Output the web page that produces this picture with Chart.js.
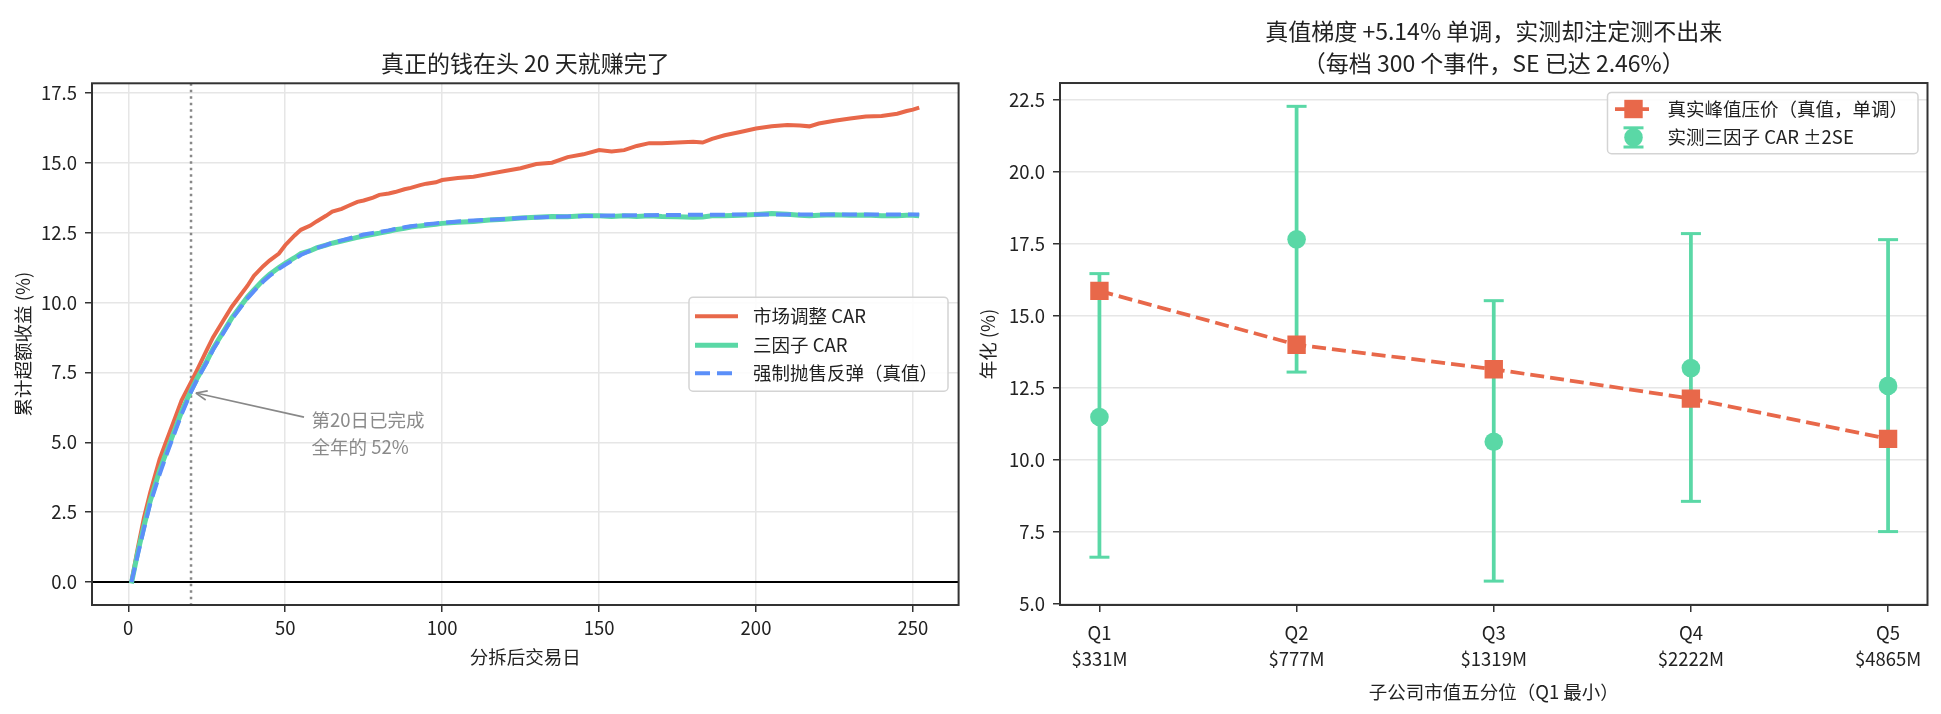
<!DOCTYPE html>
<html>
<head>
<meta charset="utf-8">
<script src="https://cdn.jsdelivr.net/npm/chart.js@4.4.1/dist/chart.umd.min.js"></script>
<style>
  body { margin: 0; background: #fff; }
  #izq { position: absolute; left: 0; top: 0; }
  #der { position: absolute; left: 960px; top: 0; }
</style>
</head>
<body>
<canvas id="izq" width="960" height="714"></canvas>
<canvas id="der" width="981" height="714"></canvas>
<script>
// datos
const days = [1,3,5,7,10,12,15,17,20,22,
  25,27,30,33,35,38,40,43,45,48,
  50,53,55,58,60,63,65,68,70,73,
  75,78,80,83,85,88,90,93,95,98,
  100,105,110,115,120,125,130,135,140,145,
  150,154,158,162,166,170,175,180,183,186,
  190,195,200,205,210,214,217,220,225,230,
  235,240,245,248,250,252]

const carMarket = [0.00,1.20,2.30,3.20,4.40,5.00,5.90,6.50,7.15,7.60,
  8.30,8.75,9.30,9.85,10.15,10.60,10.95,11.30,11.50,11.75,
  12.05,12.40,12.60,12.75,12.90,13.10,13.25,13.35,13.45,13.60,
  13.65,13.75,13.85,13.90,13.95,14.05,14.10,14.20,14.25,14.30,
  14.38,14.45,14.50,14.60,14.70,14.80,14.95,15.00,15.20,15.30,
  15.45,15.40,15.45,15.60,15.70,15.70,15.72,15.75,15.72,15.85,
  15.98,16.10,16.22,16.30,16.35,16.33,16.30,16.40,16.50,16.58,
  16.65,16.67,16.75,16.85,16.90,16.97]

const carThree = [-0.05,1.05,2.00,2.90,4.00,4.60,5.50,6.10,6.85,7.30,
  7.90,8.35,8.90,9.45,9.75,10.20,10.45,10.80,11.00,11.25,
  11.40,11.60,11.75,11.85,11.95,12.05,12.12,12.20,12.25,12.33,
  12.38,12.44,12.48,12.55,12.60,12.65,12.70,12.74,12.76,12.80,
  12.83,12.87,12.90,12.95,12.98,13.02,13.05,13.08,13.07,13.10,
  13.10,13.08,13.10,13.08,13.10,13.08,13.07,13.05,13.06,13.10,
  13.10,13.12,13.15,13.18,13.16,13.12,13.10,13.12,13.14,13.12,
  13.13,13.10,13.10,13.12,13.12,13.10]

const carTrue = [0.00,0.95,1.90,2.80,3.85,4.50,5.40,6.00,6.80,7.25,
  7.85,8.30,8.85,9.40,9.70,10.15,10.40,10.75,10.95,11.20,
  11.35,11.55,11.70,11.85,11.95,12.05,12.14,12.22,12.28,12.37,
  12.43,12.49,12.52,12.58,12.63,12.69,12.73,12.77,12.80,12.83,
  12.85,12.90,12.93,12.96,12.99,13.02,13.04,13.06,13.08,13.09,
  13.10,13.11,13.11,13.12,13.12,13.13,13.13,13.14,13.14,13.14,
  13.14,13.15,13.15,13.15,13.15,13.15,13.15,13.15,13.15,13.15,
  13.15,13.15,13.15,13.15,13.15,13.15]

const markDay = 20
const notaTexto = ['第20日已完成', '全年的 52%']
const notaPos = [58.4, 5.79]      // dia, valor de la primera linea
const flechaDesde = [56, 5.9]
const flechaHasta = [20, 6.8]

const quintiles = ['Q1', 'Q2', 'Q3', 'Q4', 'Q5']
const quintCaps = ['$331M', '$777M', '$1319M', '$2222M', '$4865M']
const peakTrue = [15.86, 13.99, 13.14, 12.12, 10.72]
const obsCar = [11.48, 17.65, 10.62, 13.18, 12.56]
const obsLow = [6.61, 13.04, 5.78, 8.55, 7.50]
const obsHigh = [16.46, 22.27, 15.52, 17.85, 17.64]

const ROJO = '#E8684A'
const VERDE = '#5AD8A6'
const AZUL = '#5B8FF9'
const FUENTE = '"Noto Sans CJK SC", "Noto Sans", sans-serif'

Chart.defaults.font.family = FUENTE
Chart.defaults.font.size = 18.5
Chart.defaults.color = '#222'

let linea = (ctx, x1, y1, x2, y2) => {
  ctx.beginPath()
  ctx.moveTo(x1, y1)
  ctx.lineTo(x2, y2)
  ctx.stroke()
}

let marcoLeyenda = (ctx, x, y, w, h) => {
  ctx.save()
  ctx.beginPath()
  ctx.roundRect(x, y, w, h, 4)
  ctx.fillStyle = 'rgba(255,255,255,0.85)'
  ctx.fill()
  ctx.strokeStyle = '#d4d4d4'
  ctx.lineWidth = 1.5
  ctx.stroke()
  ctx.restore()
}

const marco = {
  id: 'marco',
  afterDraw(chart) {
    const {ctx, chartArea: a} = chart
    ctx.save()
    ctx.strokeStyle = '#333'
    ctx.lineWidth = 2
    ctx.strokeRect(a.left, a.top, a.right - a.left, a.bottom - a.top)
    ctx.restore()
  }
}

const gridComun = {color: '#e6e6e6', lineWidth: 1.5, tickColor: '#333', tickLength: 7, tickWidth: 1.5}

// ---------- grafico izquierdo ----------
const guias = {
  id: 'guias',
  beforeDatasetsDraw(chart) {
    const {ctx, chartArea: a, scales: {x, y}} = chart
    ctx.save()
    ctx.strokeStyle = '#000'
    ctx.lineWidth = 2
    const y0 = y.getPixelForValue(0)
    linea(ctx, a.left, y0, a.right, y0)
    const xd = x.getPixelForValue(markDay)
    ctx.strokeStyle = '#888'
    ctx.lineWidth = 2.5
    ctx.setLineDash([2.5, 4])
    linea(ctx, xd, a.top, xd, a.bottom)
    ctx.restore()
  },
  afterDraw(chart) {
    const {ctx, chartArea: a, scales: {x, y}} = chart
    ctx.save()
    // nota con flecha
    ctx.fillStyle = '#8a8a8a'
    ctx.font = '18.5px ' + FUENTE
    ctx.textAlign = 'left'
    ctx.textBaseline = 'middle'
    let tx = x.getPixelForValue(notaPos[0])
    let ty = y.getPixelForValue(notaPos[1])
    notaTexto.forEach((t, i) => ctx.fillText(t, tx, ty + i * 26.7))

    let x1 = x.getPixelForValue(flechaDesde[0]), y1 = y.getPixelForValue(flechaDesde[1])
    let x2 = x.getPixelForValue(flechaHasta[0]), y2 = y.getPixelForValue(flechaHasta[1])
    let ang = Math.atan2(y2 - y1, x2 - x1)
    x2 -= 5 * Math.cos(ang)
    y2 -= 5 * Math.sin(ang)
    ctx.strokeStyle = '#888'
    ctx.lineWidth = 1.6
    linea(ctx, x1, y1, x2, y2)
    linea(ctx, x2, y2, x2 - 12 * Math.cos(ang - 0.4), y2 - 12 * Math.sin(ang - 0.4))
    linea(ctx, x2, y2, x2 - 12 * Math.cos(ang + 0.4), y2 - 12 * Math.sin(ang + 0.4))

    // leyenda
    const items = [
      {t: '市场调整 CAR', c: ROJO, w: 4, d: []},
      {t: '三因子 CAR', c: VERDE, w: 5, d: []},
      {t: '强制抛售反弹（真值）', c: AZUL, w: 4, d: [15, 7]}
    ]
    let tw = Math.max(...items.map(it => ctx.measureText(it.t).width))
    let w = 6 + 43 + 15 + tw + 10
    let h = 94
    let lx = a.right - 10.6 - w
    let ly = (a.top + a.bottom) / 2 - h / 2
    marcoLeyenda(ctx, lx, ly, w, h)
    let filas = [19, 48, 76]
    items.forEach((it, i) => {
      let cy = ly + filas[i]
      ctx.strokeStyle = it.c
      ctx.lineWidth = it.w
      ctx.setLineDash(it.d)
      linea(ctx, lx + 6, cy, lx + 49, cy)
      ctx.setLineDash([])
      ctx.fillStyle = '#222'
      ctx.fillText(it.t, lx + 64, cy)
    })
    ctx.restore()
  }
}

let puntos = serie => days.map((d, i) => ({x: d, y: serie[i]}))

new Chart(document.getElementById('izq'), {
  type: 'line',
  data: {
    datasets: [
      {data: puntos(carTrue), borderColor: AZUL, borderWidth: 4, borderDash: [15, 7], pointRadius: 0, tension: 0},
      {data: puntos(carThree), borderColor: VERDE, borderWidth: 5, pointRadius: 0, tension: 0},
      {data: puntos(carMarket), borderColor: ROJO, borderWidth: 4, pointRadius: 0, tension: 0}
    ]
  },
  options: {
    responsive: false,
    animation: false,
    layout: {padding: {left: 0, right: 1.4, top: 0, bottom: 0}},
    plugins: {
      legend: {display: false},
      tooltip: {enabled: false},
      title: {
        display: true, fullSize: false,
        text: '真正的钱在头 20 天就赚完了',
        color: '#222',
        font: {size: 23, weight: 'normal'},
        padding: {top: 49, bottom: 6.7}
      }
    },
    scales: {
      x: {
        type: 'linear', min: -11.55, max: 264.55,
        ticks: {stepSize: 50, includeBounds: false, padding: 5, maxRotation: 0, autoSkip: false},
        grid: gridComun,
        border: {display: false},
        title: {display: true, text: '分拆后交易日', padding: {top: 0, bottom: 46}},
        afterFit: s => { s.height = 109 }
      },
      y: {
        type: 'linear', min: -0.82, max: 17.84,
        ticks: {stepSize: 2.5, includeBounds: false, padding: 8, callback: v => v.toFixed(1)},
        grid: gridComun,
        border: {display: false},
        title: {display: true, text: '累计超额收益 (%)', padding: {top: 12, bottom: 0}},
        afterFit: s => { s.width = 92 }
      }
    }
  },
  plugins: [guias, marco]
})

// ---------- grafico derecho ----------
const barras = {
  id: 'barras',
  beforeDatasetsDraw(chart) {
    const {ctx, scales: {x, y}} = chart
    ctx.save()
    ctx.strokeStyle = VERDE
    obsLow.forEach((lo, i) => {
      let px = x.getPixelForValue(i)
      let ya = y.getPixelForValue(lo), yb = y.getPixelForValue(obsHigh[i])
      ctx.lineWidth = 3.75
      linea(ctx, px, ya, px, yb)
      ctx.lineWidth = 3
      linea(ctx, px - 10, ya, px + 10, ya)
      linea(ctx, px - 10, yb, px + 10, yb)
    })
    ctx.restore()
  },
  afterDraw(chart) {
    const {ctx, chartArea: a} = chart
    ctx.save()
    ctx.font = '18.5px ' + FUENTE
    ctx.textBaseline = 'middle'
    ctx.textAlign = 'left'
    const textos = ['真实峰值压价（真值，单调）', '实测三因子 CAR ±2SE']
    let tw = Math.max(...textos.map(t => ctx.measureText(t).width))
    let w = 60 + tw + 10
    let h = 61.3
    let lx = a.right - 9.5 - w
    let ly = a.top + 9.4
    marcoLeyenda(ctx, lx, ly, w, h)
    let cx = lx + 26
    // fila 1: linea discontinua con cuadrado
    let cy = ly + 16.6
    ctx.strokeStyle = ROJO
    ctx.lineWidth = 3.75
    ctx.setLineDash([14, 6])
    linea(ctx, cx - 18.5, cy, cx + 18.5, cy)
    ctx.setLineDash([])
    ctx.fillStyle = ROJO
    ctx.fillRect(cx - 9.2, cy - 9.2, 18.4, 18.4)
    // fila 2: barra de error con circulo
    let cy2 = ly + 45
    ctx.strokeStyle = VERDE
    ctx.lineWidth = 3
    linea(ctx, cx, cy2 - 9.6, cx, cy2 + 9.6)
    linea(ctx, cx - 10, cy2 - 9.6, cx + 10, cy2 - 9.6)
    linea(ctx, cx - 10, cy2 + 9.6, cx + 10, cy2 + 9.6)
    ctx.fillStyle = VERDE
    ctx.beginPath()
    ctx.arc(cx, cy2, 9.3, 0, Math.PI * 2)
    ctx.fill()
    ctx.fillStyle = '#222'
    ctx.fillText(textos[0], lx + 60, cy)
    ctx.fillText(textos[1], lx + 60, cy2)
    ctx.restore()
  }
}

new Chart(document.getElementById('der'), {
  type: 'line',
  data: {
    datasets: [
      {
        data: peakTrue.map((v, i) => ({x: i, y: v})),
        borderColor: ROJO, borderWidth: 3.75, borderDash: [14, 6],
        pointStyle: 'rect', pointRadius: 13, pointBackgroundColor: ROJO, pointBorderWidth: 0, tension: 0
      },
      {
        data: obsCar.map((v, i) => ({x: i, y: v})),
        showLine: false,
        pointStyle: 'circle', pointRadius: 9.3, pointBackgroundColor: VERDE, pointBorderWidth: 0
      }
    ]
  },
  options: {
    responsive: false,
    animation: false,
    layout: {padding: {left: 0, right: 13.5, top: 0, bottom: 0}},
    plugins: {
      legend: {display: false},
      tooltip: {enabled: false},
      title: {
        display: true, fullSize: false,
        text: ['真值梯度 +5.14% 单调，实测却注定测不出来', '（每档 300 个事件，SE 已达 2.46%）'],
        color: '#222',
        font: {size: 23, weight: 'normal', lineHeight: 1.37},
        padding: {top: 16, bottom: 4}
      }
    },
    scales: {
      x: {
        type: 'linear', min: -0.2, max: 4.2,
        ticks: {
          stepSize: 1, includeBounds: false, padding: 7.6, maxRotation: 0, autoSkip: false,
          font: {lineHeight: 1.42},
          callback: v => [quintiles[v], quintCaps[v]]
        },
        grid: Object.assign({}, gridComun, {drawOnChartArea: false}),
        border: {display: false},
        title: {display: true, text: '子公司市值五分位（Q1 最小）', padding: {top: 0, bottom: 11.2}},
        afterFit: s => { s.height = 109 }
      },
      y: {
        type: 'linear', min: 4.95, max: 23.08,
        ticks: {stepSize: 2.5, includeBounds: false, padding: 8, callback: v => v.toFixed(1)},
        grid: gridComun,
        border: {display: false},
        title: {display: true, text: '年化 (%)', padding: {top: 17, bottom: 0}},
        afterFit: s => { s.width = 100 }
      }
    }
  },
  plugins: [barras, marco]
})
</script>
</body>
</html>
